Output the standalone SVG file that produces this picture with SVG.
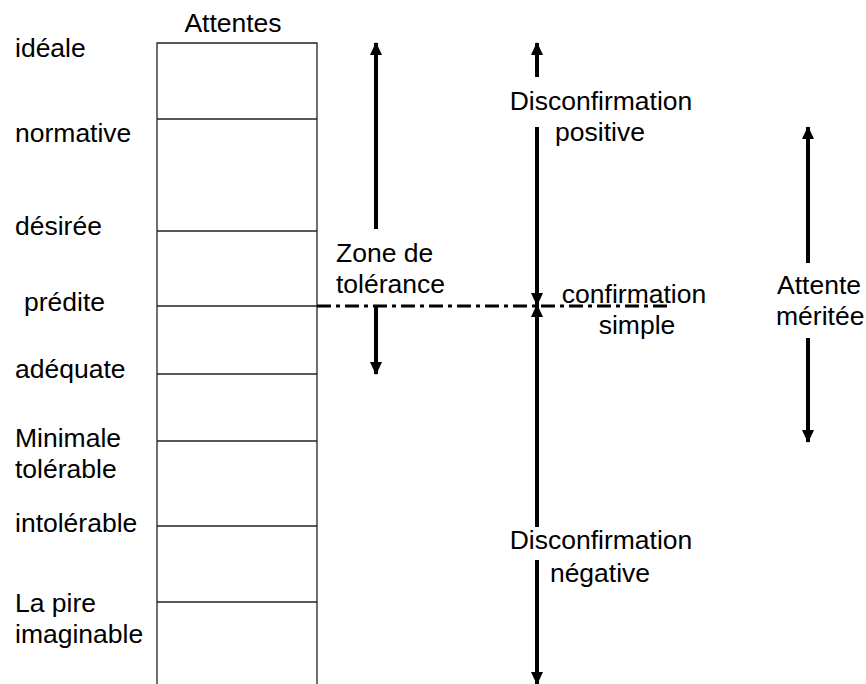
<svg xmlns="http://www.w3.org/2000/svg" width="866" height="684" viewBox="0 0 866 684">
<defs>
<style>
text{font-family:"Liberation Sans",Arial,sans-serif;font-size:26.5px;fill:#000}
.c{text-anchor:middle}
.grid{stroke:#222;stroke-width:1.3;fill:none}
.arr{stroke:#000;stroke-width:4;fill:none}
.dd{stroke:#000;stroke-width:3;stroke-dasharray:14 5 4 5;fill:none}
</style>
<marker id="ah" viewBox="0 0 13 12" refX="12" refY="6" markerWidth="13" markerHeight="12" markerUnits="userSpaceOnUse" orient="auto">
<path d="M0,0 L13,6 L0,12 Z" fill="#000"/>
</marker>
</defs>
<rect width="866" height="684" fill="#fff"/>
<g id="scale">
<text x="233" y="32" class="c">Attentes</text>
<path class="grid" d="M157,690 V43 H317 V690 M157,119 H317 M157,231 H317 M157,306 H317 M157,374 H317 M157,441 H317 M157,526 H317 M157,602 H317"/>
</g>
<g id="labels">
<text x="15" y="57">idéale</text>
<text x="15" y="142">normative</text>
<text x="15" y="235">désirée</text>
<text x="24" y="311">prédite</text>
<text x="15" y="378">adéquate</text>
<text x="15" y="447">Minimale</text>
<text x="15" y="478">tolérable</text>
<text x="15" y="532">intolérable</text>
<text x="15" y="612">La pire</text>
<text x="15" y="643">imaginable</text>
</g>
<g id="zone">
<text x="336" y="262">Zone de</text>
<text x="336" y="293">tolérance</text>
</g>
<g id="disconf-pos">
<text x="601" y="110" class="c">Disconfirmation</text>
<text x="600" y="141" class="c">positive</text>
</g>
<g id="conf">
<text x="634" y="303" class="c">confirmation</text>
<text x="637" y="334" class="c">simple</text>
</g>
<g id="disconf-neg">
<text x="601" y="549" class="c">Disconfirmation</text>
<text x="600" y="582" class="c">négative</text>
</g>
<g id="meritee">
<text x="777" y="294">Attente</text>
<text x="776" y="325">méritée</text>
</g>
<g id="connectors">
<path class="dd" d="M317,306 H670"/>
<path class="arr" d="M376,229 V43" marker-end="url(#ah)"/>
<path class="arr" d="M376,306 V374" marker-end="url(#ah)"/>
<path class="arr" d="M537,77 V43" marker-end="url(#ah)"/>
<path class="arr" d="M537,127 V305" marker-end="url(#ah)"/>
<path class="arr" d="M537,527 V305" marker-end="url(#ah)"/>
<path class="arr" d="M537,560 V684" marker-end="url(#ah)"/>
<path class="arr" d="M808,263 V127" marker-end="url(#ah)"/>
<path class="arr" d="M808,338 V442" marker-end="url(#ah)"/>
</g>
</svg>
